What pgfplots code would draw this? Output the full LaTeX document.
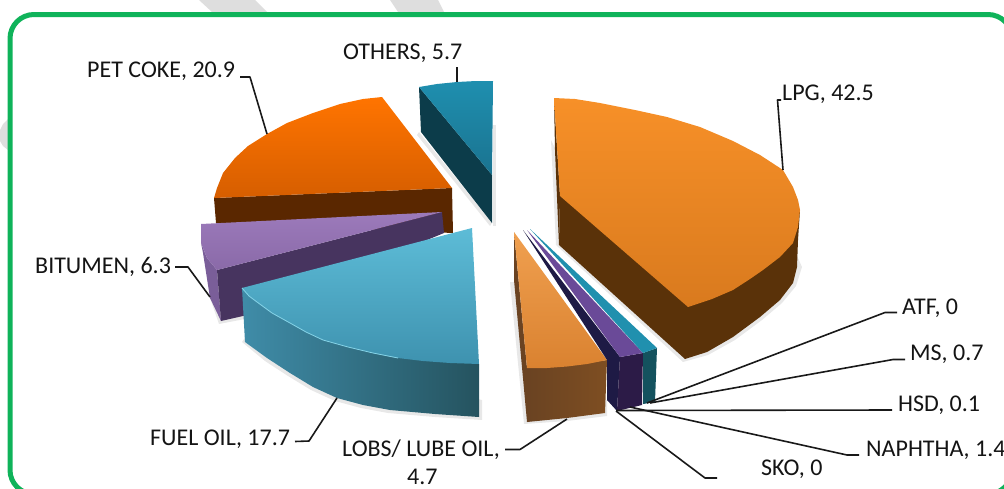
\documentclass[border=0pt]{standalone}
\usepackage{pgfplots}
\pgfplotsset{compat=1.18}
\usepackage{fontspec}
\setmainfont{Carlito}
\definecolor{gborder}{HTML}{0FB35A}
\definecolor{wm}{HTML}{DEDEDE}
\definecolor{oTa}{HTML}{1F8FAF}\definecolor{oTb}{HTML}{1A7390}\definecolor{oS}{HTML}{0C3C4A}
\definecolor{pTa}{HTML}{FF7400}\definecolor{pTb}{HTML}{D65E00}\definecolor{pS}{HTML}{5A2700}
\definecolor{bTa}{HTML}{9C7ABB}\definecolor{bTb}{HTML}{8A6AA8}\definecolor{bS}{HTML}{47345F}\definecolor{bO}{HTML}{7A5E99}
\definecolor{fTa}{HTML}{5DBCD7}\definecolor{fTb}{HTML}{3E92AF}\definecolor{fSa}{HTML}{3F8CA8}\definecolor{fSb}{HTML}{25535F}\definecolor{fH}{HTML}{86D4E8}
\definecolor{lTa}{HTML}{F0A050}\definecolor{lTb}{HTML}{DA8230}\definecolor{lSa}{HTML}{6A4322}\definecolor{lSb}{HTML}{7E4E22}
\definecolor{nv}{HTML}{1E1A45}\definecolor{uT}{HTML}{6A4A98}\definecolor{uS}{HTML}{2C1B47}
\definecolor{tT}{HTML}{2090AE}\definecolor{tS}{HTML}{14525E}
\definecolor{gTa}{HTML}{F79028}\definecolor{gTb}{HTML}{D97A1E}\definecolor{gS}{HTML}{5A3209}
\pgfplotsset{lead/.style={draw=black!90,line width=1.6pt,line join=round},
  sh/.style={draw=none,fill=black,opacity=.09}}
\newcommand{\lab}[3]{\node[anchor=base west,inner sep=0pt,text=black!92] at (axis cs:#1,#2) {\fontsize{24}{28}\selectfont #3};}
\begin{document}
\begin{tikzpicture}
\useasboundingbox (0,0) rectangle (1004pt,488pt);
\begin{axis}[at={(0,0)},anchor=south west,scale only axis,width=1004pt,height=488pt,
  xmin=0,xmax=1004,ymin=0,ymax=488,y dir=reverse,axis line style={draw=none},ticks=none,clip=true]
% watermark
\addplot[fill=wm,draw=none] coordinates {(199,0)(255,0)(267,12)(212,12)} --cycle;
\addplot[fill=wm,draw=none] coordinates {(390,0)(438,0)(444,12)(398,12)} --cycle;
\addplot[fill=wm,draw=none] coordinates {(8,119)(3,124)(0,130)(0,141)(3,146)(8,150)} --cycle;
% border
\addplot[draw=gborder,line width=5pt,rounded corners=24pt] coordinates {(10,250)(10,14.5)(1012,14.5)(1012,494)(10,494)(10,250)};
% OTHERS
\addplot[sh] coordinates {(493,125)(496,125)(496,226)(493,226)} --cycle;
\addplot[sh] coordinates {(419,132)(417,135)(490,226)(492,223)} --cycle;
\addplot[draw=none,fill=oS] coordinates {(419,87)(421,132)(492,223)(492,175)} --cycle;
\addplot[draw=none,top color=oTa,bottom color=oTb] coordinates {(419,87)(437,84)(457,82)(476,81)(493,81)(492,175)} --cycle;
% PET COKE
\addplot[draw=none,fill=pS] coordinates {(214,198)(452,188)(453,233)(216,223)} --cycle;
\addplot[draw=none,top color=pTa,bottom color=pTb] coordinates {(382,97)(363,99)(340,104)(313,113)(287,123)(267,134)(248,146)(235,158)(223,173)(217,188)(214,198)(452,188)} --cycle;
% BITUMEN
\addplot[sh] coordinates {(210,298)(219,324)(245,319)(245,310)} --cycle;
\addplot[draw=none,fill=bO] coordinates {(201,243)(207,258)(217,270)(221,321)(210,298)(203,253)} --cycle;
\addplot[draw=none,fill=bS] coordinates {(217,270)(442,212)(444,233)(243,316)(221,321)} --cycle;
\addplot[draw=none,top color=bTa,bottom color=bTb] coordinates {(201,224)(442,212)(217,270)(207,258)(201,243)} --cycle;
% FUEL OIL
\addplot[sh] coordinates {(242,342)(265,361)(288,376)(311,390)(335,401)(361,408)(388,413)(435,417)(482,420)(482,400)(400,380)(250,330)} --cycle;
\addplot[draw=none,left color=fSa,right color=fSb] coordinates {(242,288)(245,342)(267,358)(290,373)(313,387)(337,398)(363,405)(390,410)(435,414)(479,417)(479,364)} --cycle;
\addplot[draw=none,top color=fTa,bottom color=fTb] coordinates {(472,228)(242,288)(249,296)(257,302)(272,313)(290,323)(306,332)(323,340)(348,347)(373,353)(398,358)(423,361)(450,363)(479,364)} --cycle;
\addplot[draw=fH,line width=.8pt] coordinates {(242,288)(249,296)(257,302)(272,313)(290,323)(306,332)(323,340)(348,347)(373,353)(398,358)};
% LOBS
\addplot[sh] coordinates {(510,282)(524,424)(567,421)(607,416)(607,400)(530,400)(515,282)} --cycle;
\addplot[draw=none,left color=lSa,right color=lSb] coordinates {(527,368)(527,422)(567,418)(605,413)(607,360)(567,366)} --cycle;
\addplot[draw=none,fill=lSa] coordinates {(514,232)(527,368)(527,422)(514,280)} --cycle;
\addplot[draw=none,top color=lTa,bottom color=lTb] coordinates {(514,232)(607,360)(587,364)(567,366.5)(547,368)(527,368)} --cycle;
% SKO / HSD / NAPHTHA
\addplot[draw=none,fill=nv] coordinates {(523,230)(620,357)(617,411)(607,400)(607,360)} --cycle;
\addplot[draw=none,fill=uS] coordinates {(620,357)(643,353)(642,405)(617,411)} --cycle;
\addplot[draw=none,fill=uT] coordinates {(527,230)(643,353)(620,357)} --cycle;
% MS
\addplot[draw=none,fill=tS] coordinates {(643,353)(657,348)(655,402)(643,404)} --cycle;
\addplot[draw=none,fill=tT] coordinates {(530,229)(657,348)(643,353)} --cycle;
% LPG
\addplot[sh] coordinates {(551,140)(556,245)(683,362)(708,355)(735,340)(762,320)(782,303)(796,286)(802,267)(790,240)(600,240)} --cycle;
\addplot[draw=none,fill=gS] coordinates {(560,196)(559,245)(685,359)(707,352)(733,337)(760,317)(780,300)(793,283)(797,267)(798,240)(800,210)} --cycle;
\addplot[draw=none,fill=gS] coordinates {(554,98)(560,196)(559,245)(555,150)} --cycle;
\addplot[draw=none,top color=gTa,bottom color=gTb] coordinates {(554,98)(575,99)(600,103)(635,110)(667,117)(700,127)(733,141)(760,155)(783,170)(793,187)(798,200)(800,210)(798,227)(793,243)(780,257)(763,270)(750,279)(733,290)(712,299)(688,307)(560,196)} --cycle;
% leaders
\addplot[lead] coordinates {(781,100)(777.5,100)(783,170)};
\addplot[lead] coordinates {(457,67)(457,82)};
\addplot[lead] coordinates {(240,77)(250,77)(267,134)};
\addplot[lead] coordinates {(175,267)(188,267)(210,297)};
\addplot[lead] coordinates {(295,441.5)(309,441)(337,398)};
\addplot[lead] coordinates {(505,449.5)(520,449.5)(567,419)};
\addplot[lead] coordinates {(897,312.5)(885,312.5)(647,403)};
\addplot[lead] coordinates {(905,359.5)(893,359.5)(650,403)};
\addplot[lead] coordinates {(892,410)(616,410.5)};
\addplot[lead] coordinates {(859,455)(847,455)(630,407)};
\addplot[lead] coordinates {(717,478)(705,478)(616,411)};
% labels
\lab{87}{77}{PET COKE, 20.9}
\lab{343}{59}{OTHERS, 5.7}
\lab{782}{100}{LPG, 42.5}
\lab{35}{273}{BITUMEN, 6.3}
\lab{150}{445}{FUEL OIL, 17.7}
\lab{342}{456}{LOBS/ LUBE OIL,}
\lab{407}{484}{4.7}
\lab{902}{314}{ATF, 0}
\lab{910}{360}{MS, 0.7}
\lab{898}{411}{HSD, 0.1}
\lab{866}{456}{NAPHTHA, 1.4}
\lab{761}{475}{SKO, 0}
\end{axis}
\end{tikzpicture}
\end{document}
